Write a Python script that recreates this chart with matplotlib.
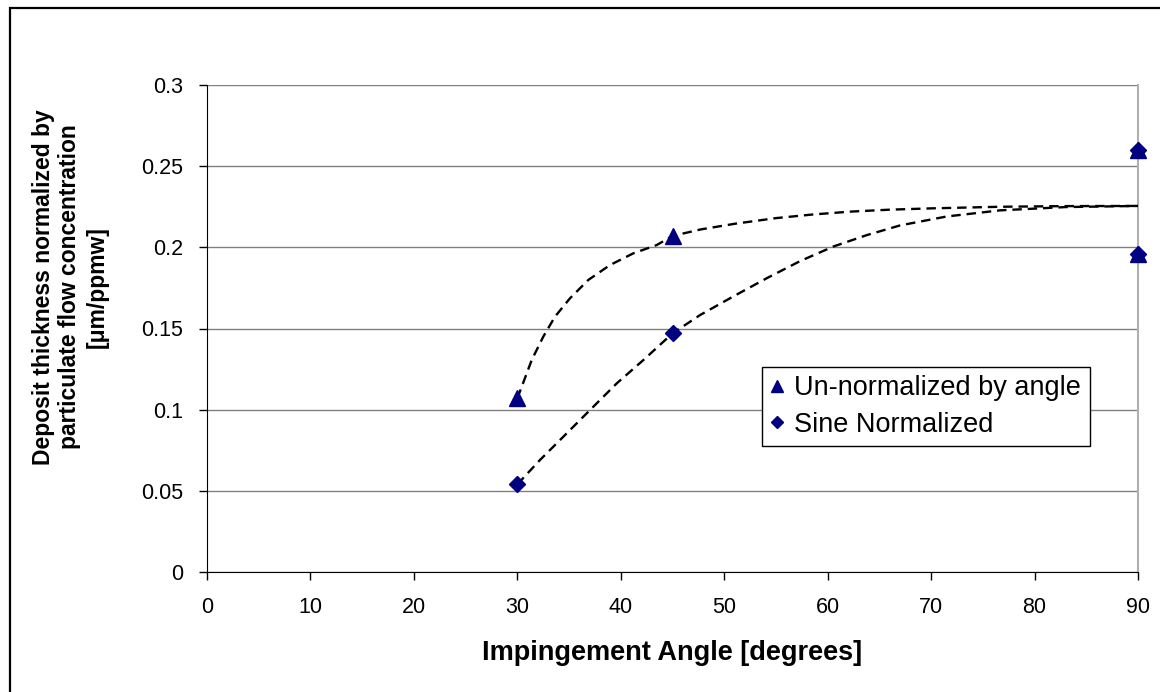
import matplotlib
matplotlib.use("Agg")
import matplotlib.pyplot as plt
from matplotlib.patches import Rectangle

plt.rcParams['font.family'] = ['Liberation Sans', 'DejaVu Sans']

# Measured data
angle = [30, 45, 90, 90]
unnormalized = [0.107, 0.207, 0.260, 0.196]
sine_normalized = [0.054, 0.147, 0.260, 0.196]

# Dashed trend curves
trend1_x = [30, 30.43, 31.39, 32.51, 33.64, 35.09, 36.86, 38.96, 41.21, 43.47, 45,
            47.7, 51, 55, 58.5, 62.2, 66, 70, 76.7, 83, 90]
trend1_y = [0.107, 0.1142, 0.1306, 0.145, 0.1573, 0.1686, 0.1799, 0.1891, 0.1963, 0.2014, 0.207,
            0.211, 0.2145, 0.218, 0.2202, 0.222, 0.2232, 0.224, 0.225, 0.2254, 0.2255]
trend2_x = [30, 32.19, 34.77, 37.03, 39.61, 42.19, 45, 47.67, 50.89, 54.12, 57.33,
            60.55, 63.77, 67.0, 71.5, 76.7, 83, 90]
trend2_y = [0.054, 0.069, 0.0854, 0.0998, 0.1162, 0.1306, 0.147, 0.1583, 0.1698, 0.181, 0.1915,
            0.2005, 0.2075, 0.2135, 0.219, 0.2228, 0.2248, 0.2255]

x_ticks = [0, 10, 20, 30, 40, 50, 60, 70, 80, 90]
y_ticks = [0, 0.05, 0.1, 0.15, 0.2, 0.25, 0.3]
y_tick_labels = ['0', '0.05', '0.1', '0.15', '0.2', '0.25', '0.3']

W, H = 1160, 692
fig = plt.figure(figsize=(W / 100, H / 100), dpi=100)
ax = fig.add_axes([207 / W, 1 - 572 / H, (1138 - 207) / W, (572 - 85) / H])

fig.patches.append(Rectangle((10 / W, -0.1), 1.2, 1 - 8 / H + 0.1, transform=fig.transFigure,
                             fill=False, edgecolor='black', linewidth=1.6, zorder=10))

navy = '#000080'
ax.plot(trend1_x, trend1_y, color='black', lw=1.7, dashes=(4, 2.5), zorder=3)
ax.plot(trend2_x, trend2_y, color='black', lw=1.7, dashes=(4, 2.5), zorder=3)
ax.plot(angle, unnormalized, linestyle='none', marker='^', markersize=11, color=navy,
        label='Un-normalized by angle', zorder=4, clip_on=False)
ax.plot(angle, sine_normalized, linestyle='none', marker='D', markersize=8, color=navy,
        label='Sine Normalized', zorder=4, clip_on=False)

ax.set_xlim(0, 90)
ax.set_ylim(0, 0.3)
ax.set_xticks(x_ticks)
ax.set_xticklabels([str(t) for t in x_ticks])
ax.set_yticks(y_ticks)
ax.set_yticklabels(y_tick_labels)
ax.yaxis.grid(True, color='#808080', linewidth=1.0)
ax.set_axisbelow(True)

ax.spines['top'].set_visible(False)
ax.spines['right'].set_color('#b0b0b0')
ax.spines['right'].set_linewidth(1.5)
ax.spines['left'].set_color('black')
ax.spines['bottom'].set_color('black')
ax.tick_params(axis='both', direction='out', length=6, width=1, color='black',
               labelsize=15.5)
ax.tick_params(axis='y', pad=11)
ax.tick_params(axis='x', pad=12)

ax.set_xlabel('Impingement Angle [degrees]', fontsize=19.5, fontweight='bold', labelpad=16)
fig.text(70 / W, 1 - 287 / H,
         'Deposit thickness normalized by\nparticulate flow concentration\n[\u03bcm/ppmw]',
         fontsize=16.5, fontweight='bold', linespacing=1.22, rotation=90,
         ha='center', va='center', multialignment='center')

leg = ax.legend(loc='upper left', bbox_to_anchor=(762 / W, 1 - 367 / H), bbox_transform=fig.transFigure,
                fontsize=19.5, frameon=True, fancybox=False, edgecolor='black', framealpha=1,
                handlelength=0.5, handletextpad=0.4, borderpad=0.3, labelspacing=0.4,
                borderaxespad=0, markerscale=0.75)
leg.get_frame().set_linewidth(1.0)

fig.savefig('out.png', dpi=100)
